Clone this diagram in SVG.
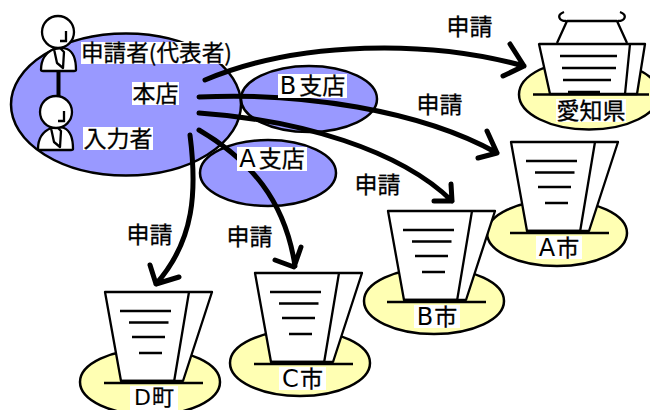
<svg xmlns="http://www.w3.org/2000/svg" xmlns:xlink="http://www.w3.org/1999/xlink" width="650" height="410" viewBox="0 0 650 410">
<style>
text{font-family:"Noto Sans CJK JP","Liberation Sans",sans-serif;font-size:23px;fill:#000;text-anchor:middle;stroke:#000;stroke-width:.3}
.lat{font-family:"DejaVu Sans",sans-serif;font-size:24px;stroke-width:0}
.b{fill:#9999ff;stroke:#000;stroke-width:2.500}
.y{fill:#ffffb3;stroke:#000;stroke-width:2.500}
.w{fill:#fff;stroke:none}
.p{fill:#fff;stroke:#000;stroke-width:2.300;stroke-linejoin:round}
.l{fill:none;stroke:#000;stroke-width:2.300}
.a{fill:none;stroke:#000;stroke-width:5;stroke-linecap:round;stroke-linejoin:round}
</style>
<defs>
<g id="doc">
<path class="p" d="M105,292H212L183,381H121Z"/>
<path class="l" d="M189,292L174,382M120,311H171M129,322.500H168.500M132,337H165M139,353H162M104,383H203"/>
<path class="l" d="M121,381H174"/>
</g>
<g id="person">
<path class="p" d="M0,38C0,26 6,20 13,17L17,16H22L26,17C33,20 35,28 35,38Q35,39 33,39H2Q0,39 0,38Z"/>
<path class="p" d="M13,17L16,31L22,36L23,20L19,16Z" stroke-width="1.500"/>
</g>
</defs>
<g id="honten-area">
<ellipse class="b" cx="126" cy="104.500" rx="115" ry="71"/>
</g>
<g id="b-branch">
<ellipse class="b" cx="309" cy="99" rx="68" ry="33"/>
</g>
<g id="a-branch">
<ellipse class="b" cx="268" cy="173" rx="68" ry="33"/>
</g>
<g id="applicant">
<use xlink:href="#person" href="#person" x="41" y="32"/>
<circle class="p" cx="58" cy="32" r="16"/>
<path class="l" d="M60,41H66V31"/>
<rect class="w" x="81" y="42" width="151" height="22"/>
<text x="156.500" y="61" style="font-size:22.500px" textLength="151" lengthAdjust="spacingAndGlyphs">申請者(代表者)</text>
</g>
<g id="inputter">
<use xlink:href="#person" href="#person" x="38" y="111"/>
<circle class="p" cx="56" cy="112" r="16"/>
<path class="l" d="M58,121H64V111"/>
<rect class="w" x="83" y="127" width="70" height="23"/>
<text x="118" y="147">入力者</text>
</g>
<path d="M58.500,71V96" fill="none" stroke="#000" stroke-width="4"/>
<g id="connectors">
<path class="a" d="M205,80C300,40 430,40 524,66M510,44L524,66L503,76"/>
<path class="a" d="M199,97C300,92 420,110 497,153M487,131L497,153L478,158"/>
<path class="a" d="M199,113C300,120 400,150 452,201M451,184L452,201L434,201"/>
<path class="a" d="M199,130C250,160 285,200 295,266M275,260L294,267L301,247"/>
<path class="a" d="M190,135C197,190 195,240 156,284M150,265L156,284L179,277"/>
</g>
<g id="honten-label"><rect class="w" x="132" y="82" width="47" height="23"/><text x="155.500" y="102">本店</text></g>
<g id="b-branch-label"><rect class="w" x="278" y="74" width="69" height="24"/><text x="312.500" y="94"><tspan class="lat">B</tspan><tspan dx="3">支店</tspan></text></g>
<g id="a-branch-label"><rect class="w" x="237" y="147" width="70" height="24"/><text x="272" y="167"><tspan class="lat">A</tspan><tspan dx="3">支店</tspan></text></g>
<g id="aichi">
<ellipse class="y" cx="589" cy="94.500" rx="70" ry="35"/>
<path class="p" d="M557,43L567,21H617L627,43"/>
<path class="l" d="M566,21C559,21 556,15 564,12M618,21C625,21 628,15 620,12"/>
<path class="p" d="M539,44H645L637,94H550Z"/>
<path class="l" d="M630,44L625,94M560,56H617M562,68H616M563,80H611M568,92H600M533,94.500H649"/>
<rect class="w" x="556" y="99" width="70" height="23"/>
<text x="591" y="119">愛知県</text>
</g>
<g id="a-city">
<ellipse class="y" cx="557" cy="233" rx="70" ry="33"/>
<use xlink:href="#doc" href="#doc" x="406" y="-150"/>
<rect class="w" x="536" y="236" width="46" height="23"/>
<text x="559" y="256"><tspan class="lat">A</tspan><tspan dx="1">市</tspan></text>
</g>
<g id="b-city">
<ellipse class="y" cx="434" cy="301" rx="70" ry="33"/>
<use xlink:href="#doc" href="#doc" x="283" y="-81"/>
<rect class="w" x="414" y="305" width="46" height="23"/>
<text x="437" y="325"><tspan class="lat">B</tspan><tspan dx="1">市</tspan></text>
</g>
<g id="c-city">
<ellipse class="y" cx="300" cy="363" rx="70" ry="33"/>
<use xlink:href="#doc" href="#doc" x="150" y="-19"/>
<rect class="w" x="279" y="367" width="47" height="23"/>
<text x="302.500" y="387"><tspan class="lat">C</tspan><tspan dx="1">市</tspan></text>
</g>
<g id="d-town">
<ellipse class="y" cx="150" cy="382" rx="70" ry="33"/>
<use xlink:href="#doc" href="#doc"/>
<rect class="w" x="130" y="386" width="48" height="24"/>
<text x="154" y="404.500" style="font-size:22px"><tspan class="lat" style="font-size:22px">D</tspan><tspan dx="1">町</tspan></text>
</g>
<g id="labels">
<text x="469.500" y="35">申請</text>
<text x="439.500" y="113">申請</text>
<text x="377.500" y="193">申請</text>
<text x="149.500" y="243">申請</text>
<text x="249.500" y="245">申請</text>
</g>
</svg>
